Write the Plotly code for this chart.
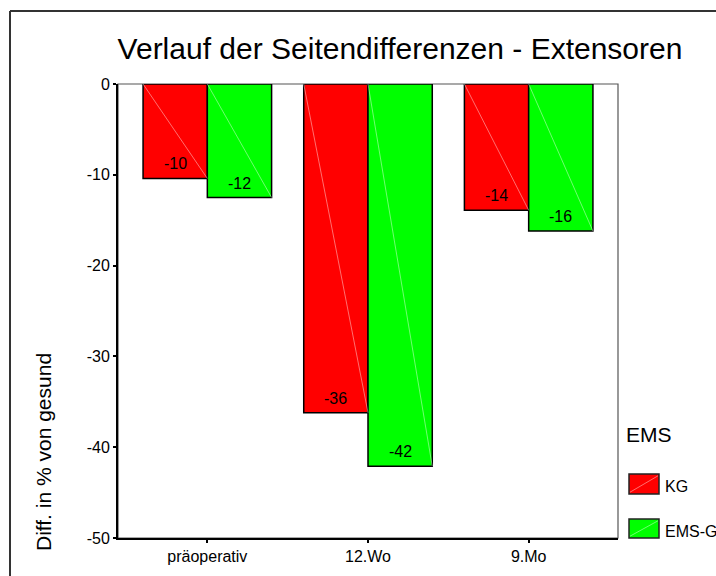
import numpy as np
import plotly.graph_objects as go

categories = ["präoperativ", "12.Wo", "9.Mo"]
series_names = ["KG", "EMS-G"]
kg_values = [-10.4, -36.2, -13.9]
ems_values = [-12.5, -42.1, -16.2]
y_ticks = [0, -10, -20, -30, -40, -50]

colors = ["#FF0000", "#00FF00"]
FONT = "Liberation Sans, Arial, sans-serif"

x = np.arange(len(categories))
bar_w = 0.4

fig = go.Figure()
annotations = []
for k, (name, vals) in enumerate(zip(series_names, [kg_values, ems_values])):
    offset = -bar_w if k == 0 else 0
    fig.add_trace(go.Bar(
        x=x, y=vals, name=name, width=bar_w, offset=offset,
        marker=dict(color=colors[k], line=dict(color="black", width=1.5)),
        showlegend=False,
    ))
    for i, v in zip(x, vals):
        x0 = i + offset
        # thin white diagonal highlight inside each bar
        fig.add_trace(go.Scatter(
            x=[x0, x0 + bar_w], y=[0, v], mode="lines",
            line=dict(color="rgba(255,255,255,0.55)", width=0.8),
            hoverinfo="skip", showlegend=False,
        ))
        # value label near bar end
        annotations.append(dict(
            text=f"{v:.0f}", x=x0 + bar_w / 2, y=v, xref="x", yref="y",
            xanchor="center", yanchor="bottom", yshift=4, showarrow=False,
            font=dict(family=FONT, size=16, color="black")))

# plot frame (gray top/right) and outer frame (partly clipped)
shapes = [
    dict(type="rect", xref="paper", yref="paper", x0=0, y0=0, x1=1, y1=1,
         line=dict(color="#555555", width=1.2), layer="below"),
    dict(type="line", xref="paper", yref="paper", x0=-0.216, y0=-0.2, x1=-0.216, y1=1.1608,
         line=dict(color="#333333", width=2)),
    dict(type="line", xref="paper", yref="paper", x0=-0.216, y0=1.1608, x1=1.3, y1=1.1608,
         line=dict(color="#333333", width=2)),
]

annotations += [
    dict(text="Diff. in % von gesund", xref="paper", yref="paper", x=-0.15,
         y=(538 - 452) / 454, xanchor="center", yanchor="middle", textangle=-90,
         showarrow=False, font=dict(family=FONT, size=21, color="black")),
    dict(text="EMS", xref="paper", yref="paper", x=1.012, y=0.2269,
         xanchor="left", yanchor="middle", showarrow=False,
         font=dict(family=FONT, size=21, color="black")),
]

# custom legend swatches
sw_y = [(0.0969, 0.141), (0.0, 0.0419)]
for k, name in enumerate(series_names):
    y0, y1 = sw_y[k]
    shapes.append(dict(type="rect", xref="paper", yref="paper", x0=1.022, x1=1.082,
                       y0=y0, y1=y1, fillcolor=colors[k],
                       line=dict(color="#222222", width=1.5)))
    shapes.append(dict(type="line", xref="paper", yref="paper", x0=1.024, x1=1.080,
                       y0=y0 + 0.004, y1=y1 - 0.004,
                       line=dict(color="rgba(255,255,255,0.55)", width=0.8)))
    annotations.append(dict(text=name, xref="paper", yref="paper", x=1.09,
                            y=(y0 + y1) / 2 - 0.006, xanchor="left", yanchor="middle",
                            showarrow=False, font=dict(family=FONT, size=16, color="black")))

fig.update_layout(
    width=716, height=576,
    margin=dict(l=118, r=98, t=84, b=38),
    paper_bgcolor="white", plot_bgcolor="white",
    barmode="overlay",
    title=dict(text="Verlauf der Seitendifferenzen - Extensoren",
               x=400 / 716, xanchor="center", xref="container",
               y=(576 - 48) / 576, yanchor="middle", yref="container",
               font=dict(family=FONT, size=30, color="black")),
    xaxis=dict(range=[-0.556, 2.556], tickvals=x, ticktext=categories,
               showline=True, linecolor="black", linewidth=2,
               ticks="outside", ticklen=3, tickwidth=2, tickcolor="black",
               showgrid=False, zeroline=False,
               tickfont=dict(family=FONT, size=16, color="black")),
    yaxis=dict(range=[-50, 0], tickvals=y_ticks, ticktext=[str(t) for t in y_ticks],
               showline=True, linecolor="black", linewidth=2,
               ticks="outside", ticklen=3, tickwidth=2, tickcolor="black",
               showgrid=False, zeroline=False,
               tickfont=dict(family=FONT, size=16, color="black")),
    shapes=shapes, annotations=annotations,
)

fig.write_html("out.html", config={"displayModeBar": False},
               post_script="document.body.style.margin='0';document.body.style.overflow='hidden';")
